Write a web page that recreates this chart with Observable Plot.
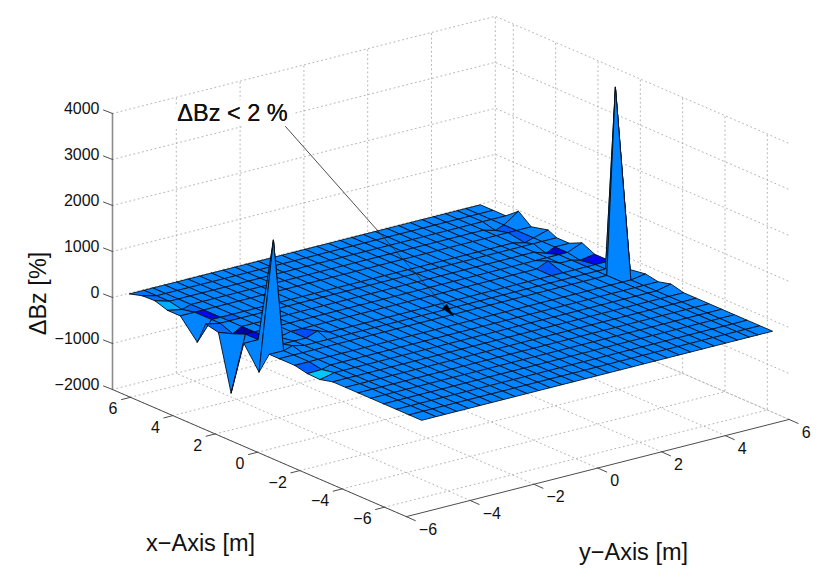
<!DOCTYPE html>
<html>
<head>
<meta charset="utf-8">
<style>html,body{margin:0;padding:0;background:#fff}svg{display:block}</style>
<script src="https://cdn.jsdelivr.net/npm/d3@7"></script>
<script src="https://cdn.jsdelivr.net/npm/@observablehq/plot@0.6"></script>
</head>
<body>
<div id="chart"></div>
<script>
// Mesh nodes
const xGrid = [6.8,6.2,5.6,5.0,4.4,3.6,3.2,2.6,2.0,1.4,0.68,0.2,-0.27,-1.0,-1.6,-2.2,-2.8,-3.4,-4.0,-4.6,-5.2,-5.8,-6.4,-7.0];
const yGrid = [-5.5,-5.05,-4.77,-4.4,-4.03,-3.67,-3.3,-2.93,-2.57,-2.2,-1.83,-1.47,-1.1,-0.73,-0.37,0,0.37,0.73,1.1,1.47,1.83,2.2,2.57,2.93,3.3,3.67,4.03,4.4,4.77,5.04,5.5];
// Non-zero deviations (mesh index i along xGrid, j along yGrid, value in %)
const devI = [10, 8, 10, 5, 12, 3, 1, 2, 3, 6, 7, 9, 10, 11, 14, 15, 14, 13, 15, 5, 8, 3, 5, 7, 9, 9];
const devJ = [ 1, 0,  0, 0, 29,30, 0, 0, 1, 0, 1, 3,  5,  2,  0,  0,  1, 30, 30,30,30,28,28,28,26,29];
const devV = [2310,-1200,-482,-413,4046,220,80,90,-60,60,-110,-60,90,60,-60,-70,-50,50,70,90,130,-70,-60,-90,110,-50];
// Face colour offsets (0 is the plain mid blue)
const patchI = [4, 7, 8, 9, 2, 14, 13, 6, 3, 4, 7, 9, 9, 9, 3, 0, 1, 5];
const patchJ = [1, 1, 1, 4, 0,  0,  0, 0, 28,28,28,29,25,28,1, 0, 0, 2];
const patchC = [-0.55,-1,-0.55,-0.25,0.3,0.5,-0.18,-0.12,-0.2,-0.18,-0.7,-0.55,-0.2,-0.12,-0.12,-0.08,-0.1,-0.15];
// Axes
const xTicks = [6,4,2,0,-2,-4,-6];
const yTicks = [-6,-4,-2,0,2,4,6];
const zTicks = [-2000,-1000,0,1000,2000,3000,4000];
const xLim = [-7.03, 6.85], yLim = [-6, 6], zLim = [-2000, 4000];
const fmt = v => String(v).replace("-", "\u2212");

// Fixed MATLAB-like orthographic view
const px = (x, y) => 112 + 31.9 * (y + 6) + 21.17 * (6.85 - x);
const py = (x, y, z) => 389 - 8.1 * (y + 6) + 9.16 * (6.85 - x) - 0.046 * (z + 2000);

const Z = xGrid.map(() => yGrid.map(() => 0));
devI.forEach((i, k) => { Z[i][devJ[k]] = devV[k]; });
const C = new Map(patchI.map((i, k) => [i + "," + patchJ[k], patchC[k]]));

// Back-to-front quads
const quads = [];
for (let i = 0; i < xGrid.length - 1; i++) {
  for (let j = yGrid.length - 2; j >= 0; j--) {
    const id = i + "," + j, c = C.get(id) ?? 0;
    for (const [a, b] of [[i,j],[i+1,j],[i+1,j+1],[i,j+1],[i,j]]) {
      quads.push({id, c, X: px(xGrid[a], yGrid[b]), Y: py(xGrid[a], yGrid[b], Z[a][b])});
    }
  }
}

const seg = (pts, k) => pts.map(p => ({k, X: px(p[0], p[1]), Y: py(p[0], p[1], p[2])}));
const grid = [];
let g = 0;
const [x0, x1] = xLim, [y0, y1] = yLim, [z0, z1] = zLim;
for (const x of xTicks) {
  grid.push(...seg([[x,y0,z0],[x,y1,z0],[x,y1,z1]], g++));
}
for (const y of yTicks) {
  grid.push(...seg([[x0,y,z0],[x1,y,z0],[x1,y,z1]], g++));
}
for (const z of zTicks) {
  grid.push(...seg([[x1,y0,z],[x1,y1,z],[x0,y1,z]], g++));
}
const axes = [
  ...seg([[x1,y0,z0],[x0,y0,z0],[x0,y1,z0]], "floor")
];
const zAxis = seg([[x1,y0,z0],[x1,y0,z1]], "z");
const ticks = [];
let t = 0;
for (const x of xTicks) { const X = px(x,y0), Y = py(x,y0,z0); ticks.push({k:t,X,Y},{k:t++,X:X-9,Y:Y+2.3}); }
for (const y of yTicks) { const X = px(x0,y), Y = py(x0,y,z0); ticks.push({k:t,X,Y},{k:t++,X:X+9,Y:Y+4}); }
for (const z of zTicks) { const X = px(x1,y0), Y = py(x1,y0,z); ticks.push({k:t,X,Y},{k:t++,X:X-9,Y:Y-3.5}); }

const zLabels = zTicks.map(z => ({s: fmt(z), X: px(x1,y0) - 13, Y: py(x1,y0,z) - 4.5}));
const xLabels = xTicks.map(x => ({s: fmt(x), X: px(x,y0) - 13, Y: py(x,y0,z0) + 12}));
const yLabels = yTicks.map(y => ({s: fmt(y), X: px(x0,y) + 12.5, Y: py(x0,y,z0) + 13}));

const FONT = "Liberation Sans, Arial, sans-serif";
const note = [{s: "\u0394Bz < 2 %", X: 232, Y: 113}];
const arrowTail = [285, 126], arrowTip = [452.7, 315.5];
const ang = Math.atan2(arrowTip[1]-arrowTail[1], arrowTip[0]-arrowTail[0]);
const head = [
  [arrowTip[0], arrowTip[1]],
  [arrowTip[0]-13*Math.cos(ang)+3*Math.sin(ang), arrowTip[1]-13*Math.sin(ang)-3*Math.cos(ang)],
  [arrowTip[0]-13*Math.cos(ang)-3*Math.sin(ang), arrowTip[1]-13*Math.sin(ang)+3*Math.cos(ang)],
  [arrowTip[0], arrowTip[1]]
].map(p => ({X: p[0], Y: p[1]}));

const chart = Plot.plot({
  width: 830, height: 587,
  marginTop: 0, marginRight: 0, marginBottom: 0, marginLeft: 0,
  x: {domain: [0, 830], range: [0, 830], axis: null},
  y: {domain: [0, 587], range: [0, 587], axis: null},
  color: {type: "linear", domain: [-1, -0.55, 0, 0.5], range: ["#0000a8", "#0008f0", "#0084ff", "#00c8ff"]},
  style: {background: "#fff", fontFamily: FONT},
  marks: [
    Plot.line(grid, {x: "X", y: "Y", z: "k", stroke: "#aaa", strokeWidth: 0.9, strokeDasharray: "1 3.4"}),
    Plot.line(axes, {x: "X", y: "Y", z: "k", stroke: "#4d4d4d", strokeWidth: 1}),
    Plot.line(zAxis, {x: "X", y: "Y", z: "k", stroke: "#8c8c8c", strokeWidth: 1.6}),
    Plot.line(ticks, {x: "X", y: "Y", z: "k", stroke: "#4d4d4d", strokeWidth: 1}),
    Plot.line(quads, {x: "X", y: "Y", z: "id", fill: "c", stroke: "#020e1c", strokeWidth: 0.9, strokeLinejoin: "round"}),
    Plot.text(zLabels, {x: "X", y: "Y", text: "s", textAnchor: "end", fontSize: 16, fill: "#111"}),
    Plot.text(xLabels, {x: "X", y: "Y", text: "s", textAnchor: "end", fontSize: 16, fill: "#111"}),
    Plot.text(yLabels, {x: "X", y: "Y", text: "s", textAnchor: "start", fontSize: 16, fill: "#111"}),
    Plot.text(note, {x: "X", y: "Y", text: "s", fontSize: 23.5, fill: "#111", stroke: "#fff", strokeWidth: 12, strokeLinejoin: "miter"}),
    Plot.text(note, {x: "X", y: "Y", text: "s", fontSize: 23.5, fill: "#111"}),
    Plot.line([{X: arrowTail[0], Y: arrowTail[1]}, {X: arrowTip[0], Y: arrowTip[1]}], {x: "X", y: "Y", stroke: "#222", strokeWidth: 0.8}),
    Plot.line(head, {x: "X", y: "Y", fill: "#000", stroke: "#000", strokeWidth: 0.5}),
    Plot.text([{s: "x\u2212Axis [m]", X: 200, Y: 543}], {x: "X", y: "Y", text: "s", fontSize: 23.5, fill: "#111"}),
    Plot.text([{s: "y\u2212Axis [m]", X: 633, Y: 552}], {x: "X", y: "Y", text: "s", fontSize: 23.5, fill: "#111"}),
    Plot.text([{s: "\u0394Bz [%]", X: 38, Y: 293}], {x: "X", y: "Y", text: "s", fontSize: 23.5, rotate: -90, fill: "#111"})
  ]
});
document.getElementById("chart").append(chart);
</script>
</body>
</html>
